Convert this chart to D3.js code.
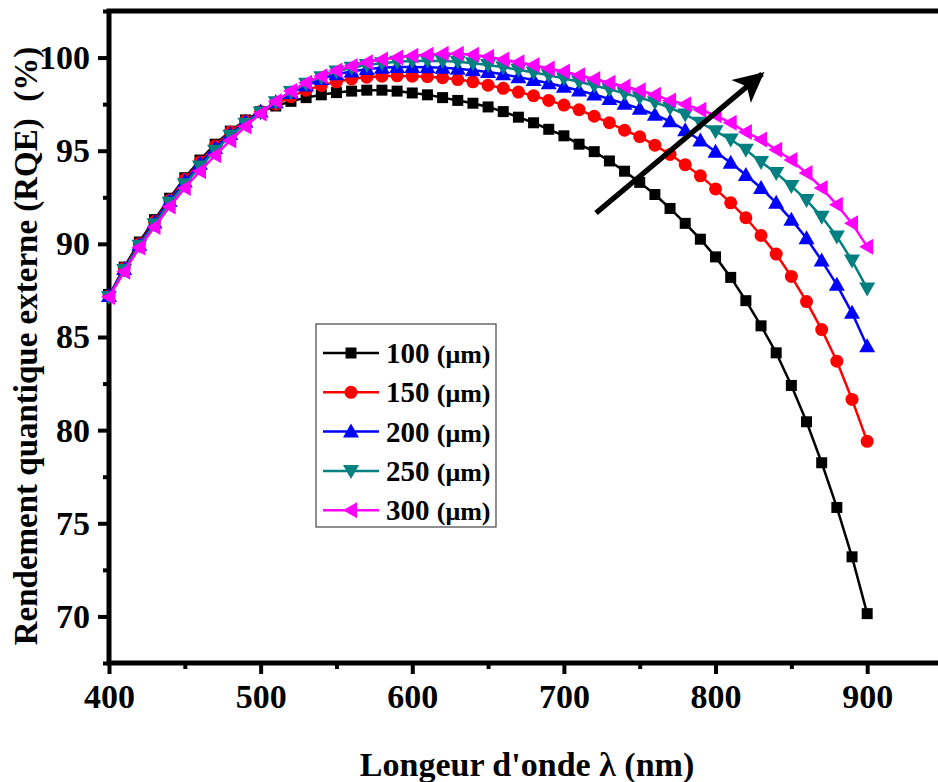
<!DOCTYPE html>
<html>
<head>
<meta charset="utf-8">
<script src="https://cdn.jsdelivr.net/npm/d3@7"></script>
<style>
body { margin: 0; background: #fff; }
text { font-family: "Liberation Serif", "Times New Roman", serif; font-weight: bold; }
</style>
</head>
<body>
<div id="chart"></div>
<script>
var WAVELENGTH = d3.range(400, 901, 10);

var SERIES_NAMES = ['100', '150', '200', '250', '300'];

var RQE_100 = [87.2, 88.75, 90.1, 91.3, 92.45, 93.55, 94.5, 95.35, 96.05, 96.65,
    97.1, 97.4, 97.65, 97.85, 98.0, 98.12, 98.2, 98.25, 98.25, 98.2,
    98.1, 98.0, 97.85, 97.7, 97.55, 97.35, 97.1, 96.8, 96.5, 96.15,
    95.8, 95.35, 94.95, 94.45, 93.9, 93.3, 92.65, 91.9, 91.1, 90.25,
    89.3, 88.2, 86.95, 85.6, 84.15, 82.4, 80.45, 78.25, 75.85, 73.2, 70.15];

var RQE_150 = [87.2, 88.7, 90.0, 91.2, 92.35, 93.45, 94.4, 95.25, 96.0, 96.6,
    97.1, 97.5, 97.9, 98.25, 98.5, 98.7, 98.85, 98.95, 99.0, 99.02,
    99.0, 98.97, 98.92, 98.82, 98.7, 98.52, 98.35, 98.15, 97.95, 97.7,
    97.45, 97.2, 96.85, 96.5, 96.1, 95.75, 95.3, 94.8, 94.25, 93.65,
    92.95, 92.2, 91.4, 90.45, 89.45, 88.25, 86.9, 85.4, 83.7, 81.65, 79.4];

var RQE_200 = [87.2, 88.65, 89.95, 91.15, 92.3, 93.35, 94.3, 95.15, 95.9, 96.55,
    97.1, 97.6, 98.1, 98.5, 98.85, 99.1, 99.25, 99.38, 99.45, 99.5,
    99.5, 99.48, 99.45, 99.4, 99.32, 99.22, 99.1, 98.95, 98.8, 98.62,
    98.43, 98.23, 98.02, 97.78, 97.52, 97.25, 96.93, 96.58, 96.1, 95.55,
    94.95, 94.35, 93.7, 93.0, 92.2, 91.3, 90.3, 89.1, 87.8, 86.3, 84.5];

var RQE_250 = [87.15, 88.6, 89.9, 91.05, 92.2, 93.2, 94.15, 95.0, 95.8, 96.45,
    97.05, 97.6, 98.15, 98.6, 98.95, 99.25, 99.45, 99.6, 99.7, 99.78,
    99.82, 99.83, 99.82, 99.78, 99.7, 99.6, 99.48, 99.35, 99.2, 99.05,
    98.88, 98.7, 98.5, 98.3, 98.08, 97.85, 97.6, 97.3, 96.95, 96.5,
    96.05, 95.6, 95.05, 94.4, 93.8, 93.1, 92.35, 91.45, 90.4, 89.1, 87.6];

var RQE_300 = [87.15, 88.5, 89.8, 90.9, 92.0, 93.0, 93.9, 94.75, 95.55, 96.3,
    97.0, 97.65, 98.2, 98.65, 99.0, 99.3, 99.55, 99.75, 99.9, 100.0,
    100.1, 100.15, 100.2, 100.2, 100.15, 100.05, 99.9, 99.75, 99.6, 99.42,
    99.25, 99.05, 98.85, 98.65, 98.45, 98.25, 98.0, 97.7, 97.5, 97.2,
    96.9, 96.5, 96.0, 95.6, 95.05, 94.5, 93.8, 93.0, 92.1, 91.1, 89.85];

var X_TICKS = [400, 500, 600, 700, 800, 900];
var Y_TICKS = [70, 75, 80, 85, 90, 95, 100];

var COLORS = ['#000000', '#ff0000', '#0000ff', '#008080', '#ff00ff'];
var SHAPES = ['square', 'circle', 'up', 'down', 'left'];

var ALL_SERIES = [RQE_100, RQE_150, RQE_200, RQE_250, RQE_300];

var width = 938, height = 782;

var svg = d3.select('#chart')
    .append('svg')
    .attr('width', width)
    .attr('height', height);

var x = d3.scaleLinear().domain([400, 950]).range([109, 943]);
var y = d3.scaleLinear().domain([67.5, 102.5]).range([663, 11]);

function markerPath(shape) {
    if (shape == 'square') return 'M-5.5,-5.5H5.5V5.5H-5.5Z';
    if (shape == 'circle') return 'M6.5,0A6.5,6.5 0 1,1 -6.5,0A6.5,6.5 0 1,1 6.5,0Z';
    if (shape == 'up') return 'M0,-8L8,6H-8Z';
    if (shape == 'down') return 'M0,8L8,-6H-8Z';
    if (shape == 'left') return 'M-8,0L6,-8V8Z';
}

// minor and major ticks
var xMinor = d3.range(450, 901, 100);
var yMinor = d3.range(67.5, 103, 5);

svg.append('g')
    .attr('transform', 'translate(0,663)')
    .call(d3.axisBottom(x).tickValues(X_TICKS).tickSize(11).tickSizeOuter(0).tickPadding(10))
    .call(g => g.select('.domain').remove())
    .call(g => g.selectAll('line').attr('stroke-width', 4))
    .call(g => g.selectAll('text').attr('font-size', 34).attr('fill', '#000'));

svg.append('g')
    .attr('transform', 'translate(0,663)')
    .call(d3.axisBottom(x).tickValues(xMinor).tickSize(6).tickFormat(''))
    .call(g => g.select('.domain').remove())
    .call(g => g.selectAll('line').attr('stroke-width', 4));

svg.append('g')
    .attr('transform', 'translate(109,0)')
    .call(d3.axisLeft(y).tickValues(Y_TICKS).tickSize(11).tickPadding(8))
    .call(g => g.select('.domain').remove())
    .call(g => g.selectAll('line').attr('stroke-width', 4))
    .call(g => g.selectAll('text').attr('font-size', 34).attr('fill', '#000'));

svg.append('g')
    .attr('transform', 'translate(109,0)')
    .call(d3.axisLeft(y).tickValues(yMinor).tickSize(6).tickFormat(''))
    .call(g => g.select('.domain').remove())
    .call(g => g.selectAll('line').attr('stroke-width', 4));

// frame
svg.append('rect')
    .attr('x', x(400))
    .attr('y', y(102.5))
    .attr('width', x(950) - x(400))
    .attr('height', y(67.5) - y(102.5))
    .attr('fill', 'none')
    .attr('stroke', '#000')
    .attr('stroke-width', 5);

var line = d3.line()
    .x((d, i) => x(WAVELENGTH[i]))
    .y(d => y(d));

ALL_SERIES.forEach(function (values, k) {
    var g = svg.append('g');
    g.append('path')
        .attr('d', line(values))
        .attr('fill', 'none')
        .attr('stroke', COLORS[k])
        .attr('stroke-width', 2.5);
    g.selectAll('path.marker')
        .data(values)
        .enter()
        .append('path')
        .attr('class', 'marker')
        .attr('d', markerPath(SHAPES[k]))
        .attr('transform', (d, i) => 'translate(' + x(WAVELENGTH[i]) + ',' + y(d) + ')')
        .attr('fill', COLORS[k]);
});

// legend
var legend = svg.append('g');
legend.append('rect')
    .attr('x', 316)
    .attr('y', 324)
    .attr('width', 180)
    .attr('height', 203)
    .attr('fill', '#fff')
    .attr('stroke', '#444')
    .attr('stroke-width', 1.2);

SERIES_NAMES.forEach(function (name, k) {
    var ly = 353 + k * 39.3;
    legend.append('line')
        .attr('x1', 323).attr('x2', 379)
        .attr('y1', ly).attr('y2', ly)
        .attr('stroke', COLORS[k])
        .attr('stroke-width', 2.5);
    legend.append('path')
        .attr('d', markerPath(SHAPES[k]))
        .attr('transform', 'translate(351,' + ly + ')')
        .attr('fill', COLORS[k]);
    var t = legend.append('text')
        .attr('x', 386)
        .attr('y', ly + 10)
        .attr('font-size', 29);
    t.append('tspan').text(name + ' ');
    t.append('tspan').attr('font-size', 26).text('(\u03bcm)');
});

// arrow
svg.append('defs').append('marker')
    .attr('id', 'head')
    .attr('viewBox', '0 0 10 10')
    .attr('refX', 9).attr('refY', 5)
    .attr('markerWidth', 6).attr('markerHeight', 5.5)
    .attr('markerUnits', 'strokeWidth')
    .attr('orient', 'auto')
    .append('path')
    .attr('d', 'M0,0L10,5L0,10L2.5,5Z')
    .attr('fill', '#000');

svg.append('line')
    .attr('x1', 596).attr('y1', 213)
    .attr('x2', 762).attr('y2', 74)
    .attr('stroke', '#000')
    .attr('stroke-width', 5.5)
    .attr('marker-end', 'url(#head)');

// axis titles
svg.append('text')
    .attr('x', 527)
    .attr('y', 776)
    .attr('text-anchor', 'middle')
    .attr('font-size', 34)
    .text("Longeur d'onde \u03bb (nm)");

svg.append('text')
    .attr('transform', 'translate(37,346) rotate(-90)')
    .attr('text-anchor', 'middle')
    .attr('font-size', 33)
    .attr('xml:space', 'preserve')
    .style('white-space', 'pre')
    .text('Rendement quantique externe (RQE)  (%)');
</script>
</body>
</html>
